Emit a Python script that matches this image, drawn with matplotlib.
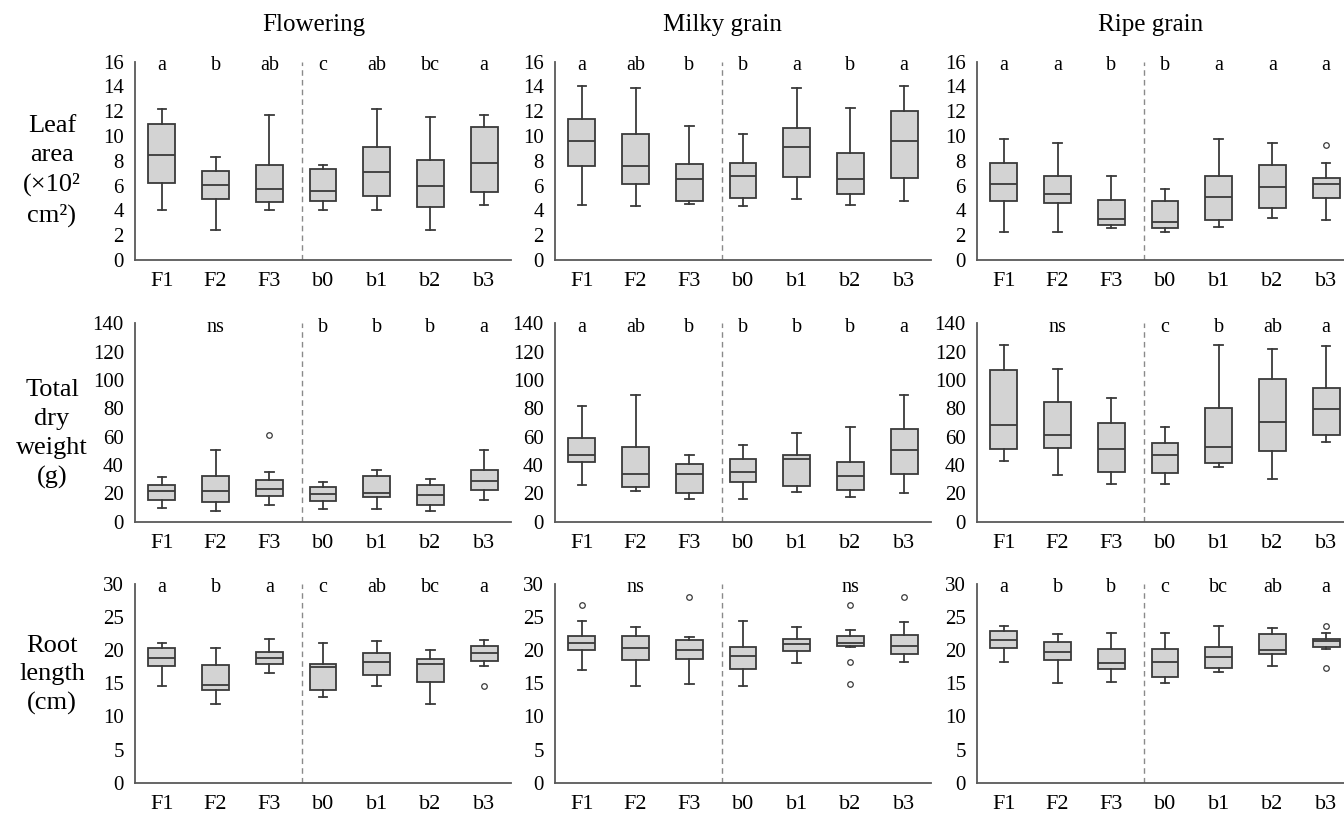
import matplotlib
matplotlib.use("Agg")
import matplotlib.pyplot as plt

plt.rcParams['font.family'] = ['Liberation Serif', 'DejaVu Serif']

groups = ["F1", "F2", "F3", "b0", "b1", "b2", "b3"]
stages = ["Flowering", "Milky grain", "Ripe grain"]
traits = ["Leaf\narea\n(×10²\ncm²)", "Total\ndry\nweight\n(g)", "Root\nlength\n(cm)"]

# (whisker low, q1, median, q3, whisker high) per group
leaf_flowering = [(4.0, 6.2, 8.45, 11.0, 12.2), (2.4, 4.9, 6.05, 7.15, 8.3),
                  (4.05, 4.7, 5.7, 7.65, 11.7), (4.05, 4.75, 5.6, 7.35, 7.65),
                  (4.0, 5.15, 7.1, 9.15, 12.2), (2.4, 4.3, 6.0, 8.1, 11.5),
                  (4.4, 5.5, 7.8, 10.7, 11.7)]
leaf_milky = [(4.4, 7.6, 9.6, 11.4, 14.0), (4.35, 6.1, 7.6, 10.15, 13.85),
              (4.55, 4.8, 6.5, 7.75, 10.8), (4.35, 5.0, 6.75, 7.8, 10.2),
              (4.9, 6.7, 9.15, 10.65, 13.85), (4.4, 5.35, 6.5, 8.6, 12.3),
              (4.8, 6.65, 9.6, 12.05, 14.0)]
leaf_ripe = [(2.25, 4.75, 6.1, 7.8, 9.8), (2.25, 4.6, 5.3, 6.8, 9.45),
             (2.55, 2.85, 3.3, 4.85, 6.8), (2.25, 2.55, 3.05, 4.75, 5.75),
             (2.7, 3.25, 5.05, 6.8, 9.8), (3.35, 4.2, 5.9, 7.7, 9.45),
             (3.25, 5.0, 6.1, 6.65, 7.85)]
tdw_flowering = [(9.4, 15.0, 21.8, 25.6, 31.7), (7.7, 13.6, 21.6, 32.1, 50.6),
                 (11.7, 18.0, 23.0, 29.3, 35.4), (9.1, 14.5, 19.7, 24.6, 27.7),
                 (9.1, 17.6, 20.6, 32.4, 36.3), (7.7, 12.0, 18.5, 26.0, 30.0),
                 (15.2, 22.7, 28.6, 36.3, 50.6)]
tdw_milky = [(25.8, 42.4, 47.4, 58.9, 81.4), (21.6, 24.6, 34.0, 52.8, 89.1),
             (16.2, 20.2, 33.8, 40.6, 47.4), (16.2, 28.1, 35.2, 44.5, 53.9),
             (21.1, 25.1, 44.5, 47.4, 62.4), (17.6, 22.5, 32.4, 42.4, 66.6),
             (20.4, 34.0, 50.4, 65.2, 89.1)]
tdw_ripe = [(42.9, 51.6, 68.0, 106.9, 124.7), (33.3, 52.3, 61.2, 84.4, 107.4),
            (26.5, 35.4, 51.1, 69.4, 87.2), (26.5, 34.7, 46.9, 55.3, 66.8),
            (38.7, 41.3, 52.5, 80.4, 124.7), (30.2, 50.2, 70.1, 100.6, 121.9),
            (56.0, 61.2, 79.5, 94.5, 124.0)]
root_flowering = [(14.65, 17.55, 18.9, 20.3, 21.05), (11.9, 14.0, 14.7, 17.8, 20.4),
                  (16.5, 17.95, 18.85, 19.7, 21.65), (13.0, 14.0, 17.5, 17.95, 21.05),
                  (14.65, 16.3, 18.2, 19.6, 21.45), (11.9, 15.15, 17.9, 18.75, 20.1),
                  (17.65, 18.4, 19.6, 20.6, 21.6)]
root_milky = [(17.05, 20.0, 21.05, 22.15, 24.4), (14.65, 18.45, 20.3, 22.15, 23.45),
              (14.95, 18.7, 20.1, 21.55, 22.0), (14.65, 17.2, 19.2, 20.45, 24.4),
              (18.05, 19.95, 20.9, 21.7, 23.45), (20.45, 20.6, 21.15, 22.15, 23.0),
              (18.15, 19.5, 20.6, 22.3, 24.25)]
root_ripe = [(18.15, 20.3, 21.5, 22.85, 23.7), (15.05, 18.45, 19.75, 21.25, 22.4),
             (15.25, 17.1, 18.05, 20.2, 22.6), (15.05, 16.0, 18.25, 20.25, 22.6),
             (16.75, 17.3, 19.05, 20.5, 23.6), (17.6, 19.5, 20.1, 22.5, 23.3),
             (20.2, 20.45, 21.4, 21.65, 22.55)]

# outliers per group
leaf_ripe_fliers = [[], [], [], [], [], [], [9.3]]
tdw_flowering_fliers = [[], [], [61.4], [], [], [], []]
root_flowering_fliers = [[], [], [], [], [], [], [14.55]]
root_milky_fliers = [[26.8], [], [28.0], [], [], [26.8, 18.15, 14.95], [28.0]]
root_ripe_fliers = [[], [], [], [], [], [], [23.7, 17.3]]
no_fliers = [[], [], [], [], [], [], []]

# significance letters
leaf_letters = [["a", "b", "ab", "c", "ab", "bc", "a"],
                ["a", "ab", "b", "b", "a", "b", "a"],
                ["a", "a", "b", "b", "a", "a", "a"]]
tdw_letters = [["", "ns", "", "b", "b", "b", "a"],
               ["a", "ab", "b", "b", "b", "b", "a"],
               ["", "ns", "", "c", "b", "ab", "a"]]
root_letters = [["a", "b", "a", "c", "ab", "bc", "a"],
                ["", "ns", "", "", "", "ns", ""],
                ["a", "b", "b", "c", "bc", "ab", "a"]]

panel_stats = [[leaf_flowering, leaf_milky, leaf_ripe],
               [tdw_flowering, tdw_milky, tdw_ripe],
               [root_flowering, root_milky, root_ripe]]
panel_fliers = [[no_fliers, no_fliers, leaf_ripe_fliers],
                [tdw_flowering_fliers, no_fliers, no_fliers],
                [root_flowering_fliers, root_milky_fliers, root_ripe_fliers]]
panel_letters = [leaf_letters, tdw_letters, root_letters]
y_max = [16, 140, 30]
y_step = [2, 20, 5]

W, H = 1344, 815
fig = plt.figure(figsize=(W / 100, H / 100), dpi=100, facecolor="white")

col_left = [135, 555, 977]
col_w = 376
row_tb = [(61.7, 260), (323.3, 521.7), (584, 782.7)]

edge = "#3a3a3a"
spine_c = "#595959"

for r in range(3):
    t, b = row_tb[r]
    for c in range(3):
        l = col_left[c]
        ax = fig.add_axes([l / W, 1 - b / H, col_w / W, (b - t) / H])
        stats = []
        for i, (lo, q1, med, q3, hi) in enumerate(panel_stats[r][c]):
            stats.append(dict(whislo=lo, q1=q1, med=med, q3=q3, whishi=hi,
                              fliers=panel_fliers[r][c][i], label=groups[i]))
        pos = list(range(1, 8))
        ax.bxp(stats, positions=pos, widths=0.5, capwidths=0.16, patch_artist=True,
               boxprops=dict(facecolor="#d3d3d3", edgecolor=edge, linewidth=1.3),
               medianprops=dict(color=edge, linewidth=1.3),
               whiskerprops=dict(color=edge, linewidth=1.3),
               capprops=dict(color=edge, linewidth=1.3),
               flierprops=dict(marker="o", markersize=4, markerfacecolor="white",
                               markeredgecolor=edge, markeredgewidth=0.9))
        ax.set_xlim(0.5, 7.5)
        ax.set_ylim(0, y_max[r])
        ax.set_yticks(range(0, y_max[r] + 1, y_step[r]))
        ax.set_xticks(pos)
        ax.set_xticklabels(groups)
        ax.tick_params(axis="both", length=0, labelsize=15, colors="black")
        ax.tick_params(axis="x", pad=9, labelsize=16)
        ax.tick_params(axis="y", pad=8)
        for s in ["top", "right"]:
            ax.spines[s].set_visible(False)
        for s in ["left", "bottom"]:
            ax.spines[s].set_color(spine_c)
            ax.spines[s].set_linewidth(1.3)
        ax.axvline(3.6, color="#8a8a8a", linestyle=(0, (4, 3)), linewidth=1.0)
        for i, lab in enumerate(panel_letters[r][c]):
            if lab:
                ax.text(pos[i], y_max[r] * 0.98, lab, ha="center", va="center",
                        fontsize=14.5, clip_on=False)
        ax.set_facecolor("white")

title_x = [314, 722, 1151]
for c in range(3):
    fig.text(title_x[c] / W, 1 - 25 / H, stages[c], ha="center", va="center", fontsize=18)

label_y = [171, 434, 675]
for r in range(3):
    fig.text(52 / W, 1 - label_y[r] / H, traits[r], ha="center", va="center",
             fontsize=19, linespacing=1.4)

fig.savefig("out.png", dpi=100, facecolor="white")
